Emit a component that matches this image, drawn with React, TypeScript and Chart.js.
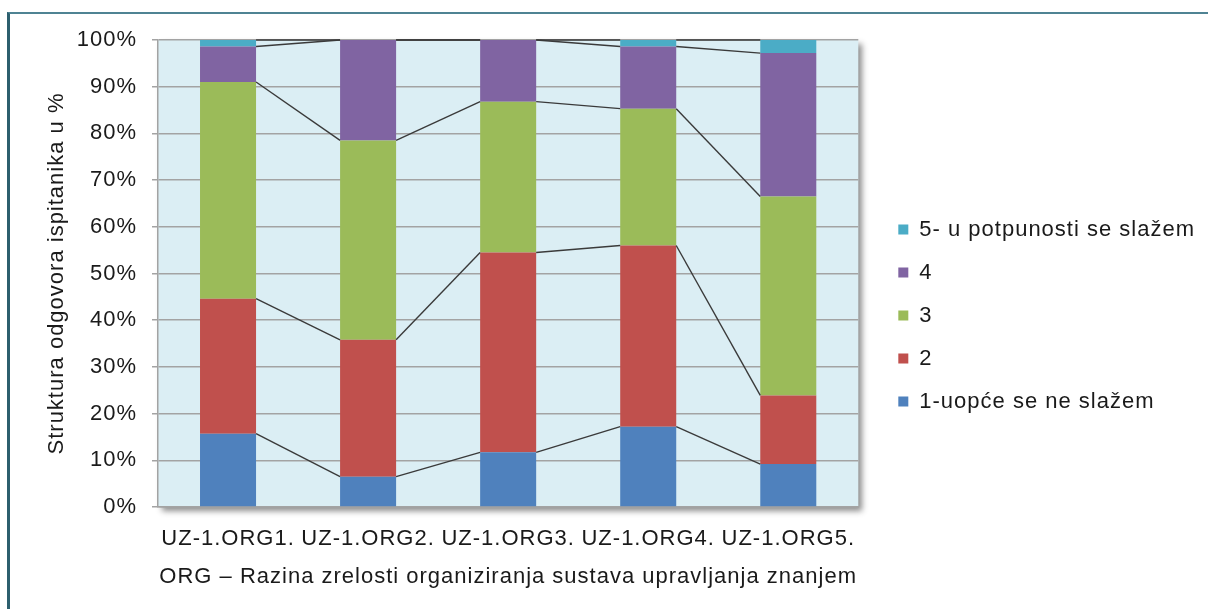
import React, { useEffect, useRef } from 'react';
import { Chart, registerables } from 'chart.js';

Chart.register(...registerables);

const categories = ['UZ-1.ORG1.', 'UZ-1.ORG2.', 'UZ-1.ORG3.', 'UZ-1.ORG4.', 'UZ-1.ORG5.'];
const seriesNames = ['1-uopće se ne slažem', '2', '3', '4', '5- u potpunosti se slažem'];
const series1 = [15.7, 6.5, 11.7, 17.2, 9.2];
const series2 = [28.9, 29.3, 42.8, 38.8, 14.7];
const series3 = [46.4, 42.7, 32.3, 29.3, 42.6];
const series4 = [7.6, 21.5, 13.2, 13.3, 30.7];
const series5 = [1.4, 0, 0, 1.4, 2.8];
const seriesColors = ['#4F81BD', '#C0504D', '#9BBB59', '#8064A2', '#4BACC6'];
const yTitle = 'Struktura odgovora ispitanika u %';
const xTitle = 'ORG – Razina zrelosti organiziranja sustava upravljanja znanjem';
const yMin = 0;
const yMax = 100;
const yStep = 10;

const FONT = '"Liberation Sans", Arial, sans-serif';
const TEXT = '#1a1a1a';
const GRID = '#a3a3a3';

const textSpacing = {
  id: 'textSpacing',
  beforeUpdate(chart: any) {
    try {
      chart.ctx.letterSpacing = '1px';
    } catch (e) {}
  },
  beforeDraw(chart: any) {
    try {
      chart.ctx.letterSpacing = '1px';
    } catch (e) {}
  },
};

const plotBackground = {
  id: 'plotBackground',
  beforeDraw(chart: any) {
    const { ctx, chartArea } = chart;
    if (!chartArea) return;
    ctx.save();
    ctx.shadowColor = 'rgba(0,0,0,0.45)';
    ctx.shadowBlur = 6;
    ctx.shadowOffsetX = 4;
    ctx.shadowOffsetY = 4;
    ctx.fillStyle = '#DBEEF4';
    ctx.fillRect(chartArea.left, chartArea.top, chartArea.right - chartArea.left, chartArea.bottom - chartArea.top);
    ctx.restore();
  },
};

const seriesLines = {
  id: 'seriesLines',
  afterDatasetsDraw(chart: any) {
    const { ctx } = chart;
    ctx.save();
    ctx.strokeStyle = '#3a3a3a';
    ctx.lineWidth = 1.4;
    chart.data.datasets.forEach((_: any, d: number) => {
      const meta = chart.getDatasetMeta(d);
      if (meta.hidden) return;
      for (let i = 0; i < meta.data.length - 1; i++) {
        const a = meta.data[i];
        const b = meta.data[i + 1];
        ctx.beginPath();
        ctx.moveTo(a.x + a.width / 2, a.y);
        ctx.lineTo(b.x - b.width / 2, b.y);
        ctx.stroke();
      }
    });
    ctx.restore();
  },
};

export default function App() {
  const ref = useRef<HTMLCanvasElement | null>(null);

  useEffect(() => {
    if (!ref.current) return;
    const data = [series1, series2, series3, series4, series5];
    const chart = new Chart(ref.current, {
      type: 'bar',
      data: {
        labels: categories,
        datasets: data.map((values, i) => ({
          label: seriesNames[i],
          data: values,
          backgroundColor: seriesColors[i],
          borderWidth: 0,
          categoryPercentage: 0.8,
          barPercentage: 0.5,
        })),
      },
      options: {
        animation: false,
        responsive: false,
        layout: { padding: { left: 0, top: 40, right: 3, bottom: 18 } },
        plugins: {
          tooltip: { enabled: false },
          legend: {
            position: 'right',
            reverse: true,
            maxWidth: 500,
            labels: {
              boxWidth: 10,
              boxHeight: 10,
              padding: 21,
              color: TEXT,
              font: { family: FONT, size: 22 },
            },
          },
        },
        scales: {
          x: {
            stacked: true,
            grid: { display: false, drawTicks: false },
            border: { display: true, color: GRID, width: 1.5 },
            ticks: {
              color: TEXT,
              font: { family: FONT, size: 22 },
              padding: 19,
              maxRotation: 0,
              autoSkip: false,
            },
            title: {
              display: true,
              text: xTitle,
              color: TEXT,
              font: { family: FONT, size: 22 },
              padding: { top: 0, bottom: 1 },
            },
            afterFit: (s: any) => {
              s.height = 84;
            },
          },
          y: {
            stacked: true,
            min: yMin,
            max: yMax,
            ticks: {
              stepSize: yStep,
              color: TEXT,
              font: { family: FONT, size: 22 },
              padding: 15,
              callback: (v: any) => v + '%',
            },
            grid: { color: GRID, lineWidth: 1.5, tickLength: 6, tickColor: GRID, drawTicks: true },
            border: { display: true, color: GRID, width: 1.5 },
            title: {
              display: true,
              text: yTitle,
              color: TEXT,
              font: { family: FONT, size: 22 },
              padding: { top: 44, bottom: 0 },
            },
            afterFit: (s: any) => {
              s.width = 158;
            },
          },
          yGap: {
            position: 'right',
            display: true,
            grid: { display: false, drawTicks: false },
            border: { display: false },
            ticks: { display: false },
            afterFit: (s: any) => {
              s.width = 19;
            },
          },
        },
      },
      plugins: [textSpacing, plotBackground, seriesLines],
    } as any);
    return () => chart.destroy();
  }, []);

  return (
    <div style={{ position: 'fixed', left: 0, top: 0, width: 1208, height: 609, background: '#fff' }}>
      <div
        style={{
          position: 'absolute',
          left: 7,
          top: 12,
          width: 1201,
          height: 597,
          borderLeft: '3px solid #2d5f6e',
          borderTop: '2px solid #4f8393',
          boxSizing: 'border-box',
        }}
      />
      <canvas ref={ref} width={1208} height={609} style={{ position: 'absolute', left: 0, top: 0 }} />
    </div>
  );
}
